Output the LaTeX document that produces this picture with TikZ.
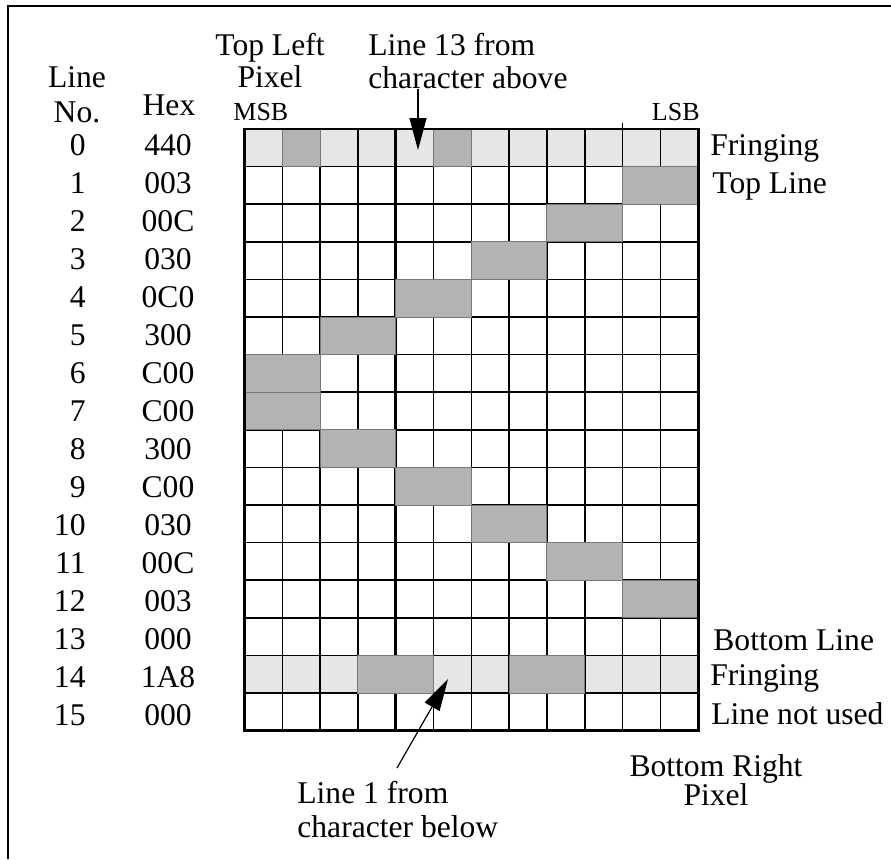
\documentclass[tikz,border=0pt]{standalone}
\usepackage{fontspec}
\setmainfont{Liberation Serif}
\usetikzlibrary{arrows.meta, positioning}
\definecolor{fringegray}{RGB}{230,230,230}
\definecolor{bitgray}{RGB}{179,179,179}
\definecolor{bitedge}{RGB}{120,120,120}
\newcommand{\txtsize}[1]{\fontsize{15.8}{#1}\selectfont}
\tikzset{
  lbl/.style={inner sep=0pt, font=\txtsize{17pt}},
  smalllbl/.style={inner sep=0pt, font=\fontsize{13}{15}\selectfont},
  fringe/.style={fill=fringegray},
  bitcell/.style={fill=bitgray, draw=bitedge, line width=0.5pt},
  gridline/.style={line width=0.8pt},
  majorline/.style={line width=1.4pt},
  pointer/.style={-{Triangle[length=16pt, width=8.5pt]}, line width=0.6pt}
}

\begin{document}
\begin{tikzpicture}[x=0.5pt, y=-0.5pt]
  \useasboundingbox (0,0) rectangle (891,859);
  % frame
  \draw[line width=1pt] (891,5.5) -- (8,5.5) -- (8,859);

  % column headings (base = last line)
  \node[lbl, align=center, anchor=base, font=\txtsize{17.5pt}] (linehdr) at (77,122) {Line\\No.};
  \node[lbl, anchor=base] (hexhdr) at (169,115) {Hex};
  \node[lbl, align=center, anchor=base, font=\txtsize{16pt}] (topleft) at (270,87) {Top Left\\Pixel};
  \node[smalllbl, anchor=base west] (msb) at (233,120) {MSB};
  \node[smalllbl, anchor=base east] (lsb) at (700,120) {LSB};
  \node[lbl, align=left, anchor=base west, font=\txtsize{16.5pt}] (abovelbl) at (368,88) {Line 13 from\\character above};

  % line numbers and hex values
  \foreach \h [count=\i from 0] in {440,003,00C,030,0C0,300,C00,C00,300,C00,030,00C,003,000,1A8,000} {
    \node[lbl, anchor=base east] (num\i) at (86,155+38*\i) {\i};
    \node[lbl, anchor=base] (hex\i) at (168,155+38*\i) {\h};
  }

  % pixel grid
  \begin{scope}[xshift=122.25pt, yshift=-64.5pt, x=18.9pt, y=-18.8pt]
    \fill[fringe] (0,0) rectangle (12,1);
    \fill[fringe] (0,14) rectangle (12,15);
    \foreach \c in {0,...,12}
      \draw[gridline] (\c,0) -- (\c,16);
    \foreach \r in {0,...,16}
      \draw[gridline] (0,\r) -- (12,\r);
    \foreach \c in {4,8}
      \draw[majorline] (\c,0) -- (\c,16);
    \foreach \r/\c/\w in {0/1/1, 0/5/1, 1/10/2, 2/8/2, 3/6/2, 4/4/2, 5/2/2, 6/0/2,
                          7/0/2, 8/2/2, 9/4/2, 10/6/2, 11/8/2, 12/10/2, 14/3/2, 14/7/2}
      \filldraw[bitcell] (\c,\r) rectangle ++(\w,1);
    \draw[majorline] (0,0) rectangle (12,16);
    \draw[gridline] (10,-0.15) -- (10,0);
  \end{scope}

  % row notes
  \node[lbl, anchor=base west] (fringetop) at (710,155) {Fringing};
  \node[lbl, anchor=base west] (topline) at (712,193) {Top Line};
  \node[lbl, anchor=base west] (bottomline) at (713,650) {Bottom Line};
  \node[lbl, anchor=base west] (fringebot) at (710,685) {Fringing};
  \node[lbl, anchor=base west] (notused) at (711,724) {Line not used};
  \node[lbl, align=center, anchor=base, font=\txtsize{14.5pt}] (botright) at (716,805) {Bottom Right\\Pixel};
  \node[lbl, align=left, anchor=base west] (belowlbl) at (297,837) {Line 1 from\\character below};

  % pointers
  \coordinate (tipA) at (418,150);
  \coordinate (tailB) at (397,768);
  \coordinate (tipB) at (448,679);
  \draw[pointer] (tipA |- abovelbl.south) -- (tipA);
  \draw[pointer] (tailB) -- (tipB);
\end{tikzpicture}
\end{document}
